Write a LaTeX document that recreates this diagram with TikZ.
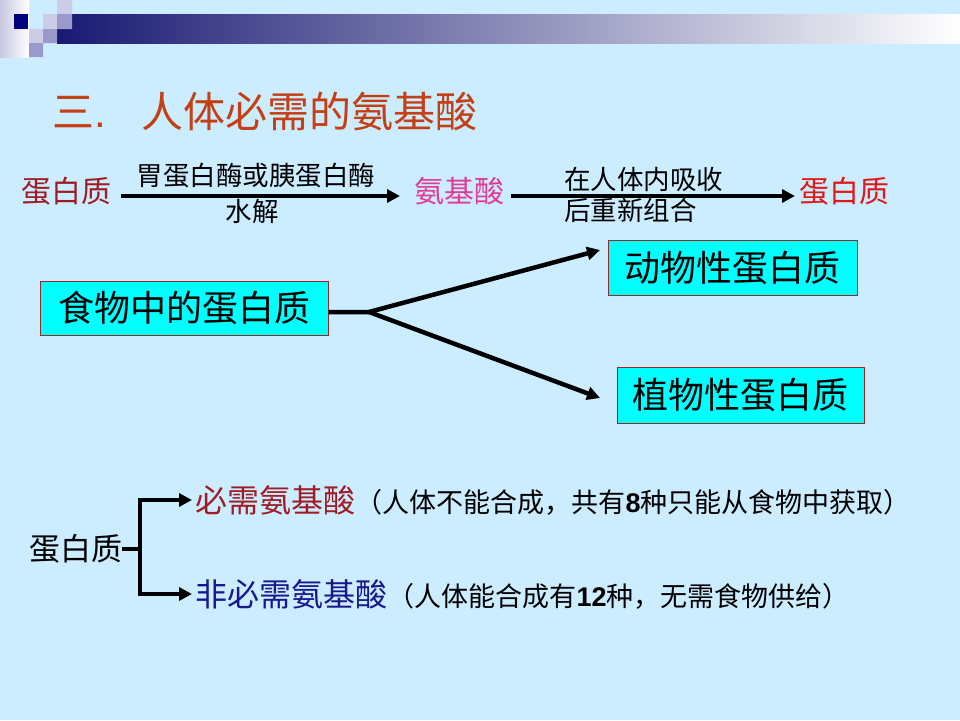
\documentclass[tikz,border=0pt]{standalone}
\usepackage{fontspec}
\newfontfamily\cjk{Noto Sans CJK SC}
\newfontfamily\arialb{Liberation Sans}
\usetikzlibrary{arrows.meta}

\definecolor{slidebg}{RGB}{204,236,255}
\definecolor{titlered}{RGB}{196,64,20}
\definecolor{darkred}{RGB}{160,28,36}
\definecolor{pinkred}{RGB}{226,60,150}
\definecolor{brightred}{RGB}{226,24,24}
\definecolor{navytxt}{RGB}{24,24,140}
\definecolor{boxline}{RGB}{150,40,40}
\definecolor{boxfill}{RGB}{0,255,255}
\definecolor{sqdark}{RGB}{0,0,128}
\definecolor{sqlight}{RGB}{204,204,230}
\definecolor{sqmid}{RGB}{153,153,204}
\definecolor{barnavy}{RGB}{25,25,115}
\definecolor{striplav}{RGB}{200,200,226}

\tikzset{
  txt/.style={font=\cjk\fontsize{#1}{#1}\selectfont},
  word/.style={inner sep=0pt, anchor=west},
  cyanbox/.style={draw=boxline, line width=1pt, fill=boxfill, inner sep=0pt},
  fatline/.style={line width=4.5pt},
  fatarrow/.style={line width=4.5pt, -{Triangle[length=13pt,width=13pt]}},
}

\begin{document}
\begin{tikzpicture}[x=1pt,y=-1pt]
  % slide background and header bar
  \fill[slidebg] (0,0) rectangle (960,720);
  \useasboundingbox (0,0) rectangle (960,720);
  \shade[left color=striplav, right color=white] (0,0) rectangle (29,57);
  \shade[left color=barnavy, right color=white] (57,14) rectangle (960,43);
  \fill[sqdark] (14,14) rectangle (28,29);
  \fill[sqlight] (57,0) rectangle (72,14)
                 (43,14) rectangle (57,29)
                 (29,29) rectangle (43,43);
  \fill[sqmid] (57,14) rectangle (72,29)
               (43,29) rectangle (57,43)
               (29,43) rectangle (43,57);

  \node[word, txt=42, text=titlered] (title) at (52,111)
    {三{\arialb.}\hspace{36pt}人体必需的氨基酸};

  % first row
  \node[word, txt=30, text=darkred] (prot) at (21,191) {蛋白质};
  \node[word, txt=30, text=pinkred] (amino) at (414,191) {氨基酸};
  \node[word, txt=30, text=brightred] (protnew) at (799,191) {蛋白质};
  \draw[fatarrow] ([xshift=10pt,yshift=-5pt]prot.east) -- ([xshift=-14pt,yshift=-5pt]amino.west);
  \draw[fatarrow] ([xshift=7pt,yshift=-5pt]amino.east) -- ([xshift=-4pt,yshift=-5pt]protnew.west);
  \node[txt=26.5] (enzyme) at (256,176) {胃蛋白酶或胰蛋白酶};
  \node[txt=26.5] (hydro) at (252,211) {水解};
  \node[word, txt=26.5] (absorb) at (564,179) {在人体内吸收};
  \node[word, txt=26.5] (rebuild) at (564,210) {后重新组合};

  % food proteins
  \node[cyanbox, minimum width=288pt, minimum height=54pt, txt=36] (food) at (184,308) {食物中的蛋白质\hspace{6pt}};
  \node[cyanbox, minimum width=249pt, minimum height=55pt, txt=36] (animal) at (732.5,267.5) {动物性蛋白质};
  \node[cyanbox, minimum width=247pt, minimum height=56pt, txt=36] (plant) at (740.5,395) {植物性蛋白质};
  \coordinate (fork) at (369,312);
  \coordinate (animaltip) at (600,250);
  \coordinate (planttip) at (600,398);
  \draw[fatarrow] (food.east |- fork) -- (fork) -- (animaltip);
  \draw[fatarrow] (fork) -- (planttip);

  % essential / non-essential
  \node[word, txt=31] (protbase) at (29,549) {蛋白质};
  \coordinate (branch) at (140,549);
  \node[word, txt=32, text=darkred] (essential) at (195,500) {必需氨基酸};
  \node[anchor=base west, inner sep=0pt, txt=27] (esstext) at (essential.base east)
    {（人体不能合成，共有{\arialb\bfseries 8}种只能从食物中获取）};
  \node[word, txt=32, text=navytxt] (nonessential) at (195,594) {非必需氨基酸};
  \node[anchor=base west, inner sep=0pt, txt=27] (nonesstext) at (nonessential.base east)
    {（人体能合成有{\arialb\bfseries 12}种，无需食物供给）};
  \draw[fatline] (protbase.east) -- (branch);
  \draw[fatarrow] (branch) |- ([xshift=-3pt]essential.west);
  \draw[fatarrow] (branch) |- ([xshift=-3pt]nonessential.west);
\end{tikzpicture}
\end{document}
